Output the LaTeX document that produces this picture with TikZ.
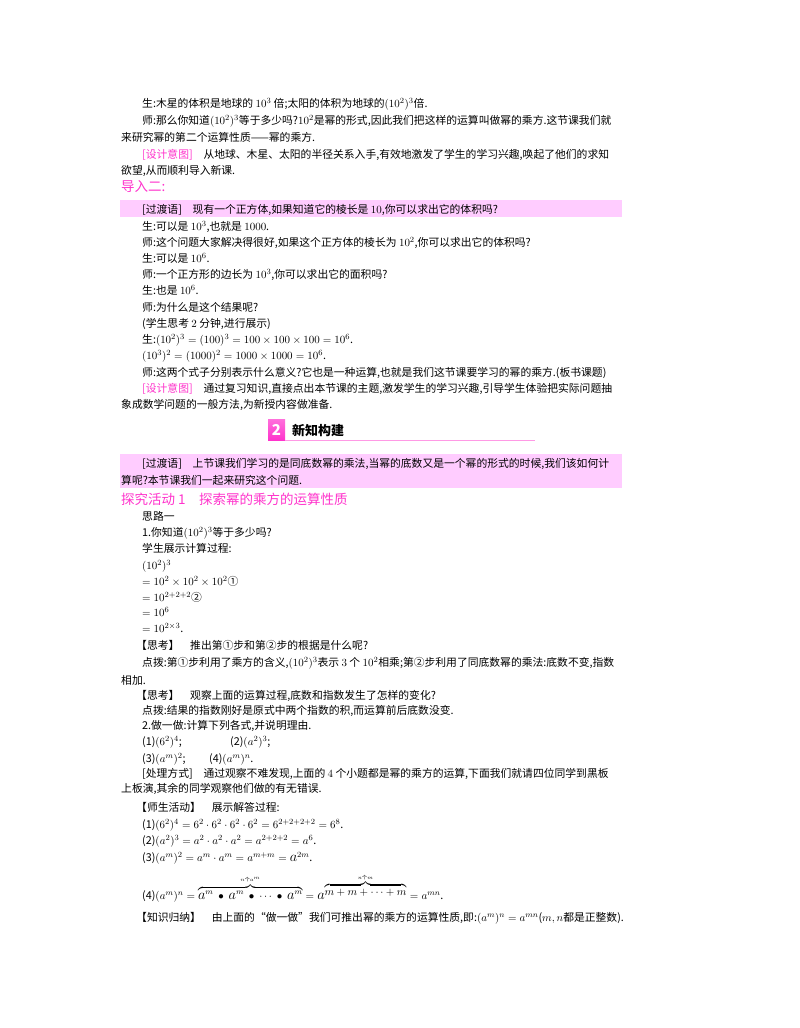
\documentclass[tikz,border=0pt]{standalone}
\usepackage{amsmath}
\usepackage{fontspec}
\setmainfont{Noto Sans CJK SC}
\definecolor{pk}{HTML}{FFCCFF}
\definecolor{mg}{HTML}{FF33CC}
\newcommand{\pkt}[1]{{\color{mg}#1}}
\begin{document}
\begin{tikzpicture}[x=1pt,y=-1pt,
  t/.style={anchor=base west,inner sep=0pt,font=\fontsize{10.8}{13}\selectfont},
  hd/.style={anchor=base west,inner sep=0pt,text=mg,font=\fontsize{13.5}{16}\selectfont}]
\useasboundingbox (0,0) rectangle (800,1028);
\fill[white] (0,0) rectangle (800,1028);
\fill[pk] (120,200) rectangle (622,217);
\fill[pk] (120,454) rectangle (622,488);
\node[t] (l1) at (142,107) {生:木星的体积是地球的 $10^3$ 倍;太阳的体积为地球的$(10^2)^3$倍.};
\node[t] (l2) at (142,124) {师:那么你知道$(10^2)^3$等于多少吗?$10^2$是幂的形式,因此我们把这样的运算叫做幂的乘方.这节课我们就};
\node[t] (l3) at (121,141) {来研究幂的第二个运算性质——幂的乘方.};
\node[t] (l4) at (142,158) {\pkt{[设计意图]}\quad 从地球、木星、太阳的半径关系入手,有效地激发了学生的学习兴趣,唤起了他们的求知};
\node[t] (l5) at (121,174) {欲望,从而顺利导入新课.};
\node[hd] (h1) at (121,191) {导入二:};
\node[t] (l6) at (142,213) {[过渡语]\quad 现有一个正方体,如果知道它的棱长是 $10$,你可以求出它的体积吗?};
\node[t] (l7) at (142,230) {生:可以是 $10^3$,也就是 $1000$.};
\node[t] (l8) at (142,246) {师:这个问题大家解决得很好,如果这个正方体的棱长为 $10^2$,你可以求出它的体积吗?};
\node[t] (l9) at (142,262) {生:可以是 $10^6$.};
\node[t] (l10) at (142,278) {师:一个正方形的边长为 $10^3$,你可以求出它的面积吗?};
\node[t] (l11) at (142,294) {生:也是 $10^6$.};
\node[t] (l12) at (142,311) {师:为什么是这个结果呢?};
\node[t] (l13) at (142,327) {(学生思考 $2$ 分钟,进行展示)};
\node[t] (l14) at (142,343) {生:$(10^2)^3=(100)^3=100\times100\times100=10^6$.};
\node[t] (l15) at (142,359) {$(10^3)^2=(1000)^2=1000\times1000=10^6$.};
\node[t] (l16) at (142,376) {师:这两个式子分别表示什么意义?它也是一种运算,也就是我们这节课要学习的幂的乘方.(板书课题)};
\node[t] (l17) at (142,392) {\pkt{[设计意图]}\quad 通过复习知识,直接点出本节课的主题,激发学生的学习兴趣,引导学生体验把实际问题抽};
\node[t] (l18) at (121,408) {象成数学问题的一般方法,为新授内容做准备.};
% heading
\shade[top color=mg!70, bottom color=mg] (268,419) rectangle (285,440);
\node[anchor=center,inner sep=0pt,text=white,font=\bfseries\itshape\fontsize{15}{15}\selectfont] (b2) at (276.5,430) {2};
\node[anchor=base west,inner sep=0pt,font=\bfseries\fontsize{13}{15}\selectfont] (h2) at (292,435) {新知构建};
\draw[mg!50,line width=0.8pt] (285,440) -- (535,440);
\node[t] (m1) at (142,467) {[过渡语]\quad 上节课我们学习的是同底数幂的乘法,当幂的底数又是一个幂的形式的时候,我们该如何计};
\node[t] (m2) at (121,484) {算呢?本节课我们一起来研究这个问题.};
\node[hd] (h3) at (121,504) {探究活动 1\quad 探索幂的乘方的运算性质};
\node[t] (m3) at (142,520) {思路一};
\node[t] (m4) at (142,536) {1.你知道$(10^2)^3$等于多少吗?};
\node[t] (m5) at (142,552) {学生展示计算过程:};
\node[t] (m6) at (142,569) {$(10^2)^3$};
\node[t] (m7) at (142,585) {$=10^2\times10^2\times10^2$①};
\node[t] (m8) at (142,601) {$=10^{2+2+2}$②};
\node[t] (m9) at (142,616) {$=10^6$};
\node[t] (m10) at (142,632) {$=10^{2\times3}$.};
\node[t] (m11) at (136,649) {【思考】\quad 推出第①步和第②步的根据是什么呢?};
\node[t] (m12) at (142,666) {点拨:第①步利用了乘方的含义,$(10^2)^3$表示 $3$ 个 $10^2$相乘;第②步利用了同底数幂的乘法:底数不变,指数};
\node[t] (m13) at (121,684) {相加.};
\node[t] (m14) at (136,699) {【思考】\quad 观察上面的运算过程,底数和指数发生了怎样的变化?};
\node[t] (m15) at (142,714) {点拨:结果的指数刚好是原式中两个指数的积,而运算前后底数没变.};
\node[t] (m16) at (142,729) {2.做一做:计算下列各式,并说明理由.};
\node[t] (m17) at (142,745) {(1)$(6^2)^4$;};
\node[t] (m18) at (230,745) {(2)$(a^2)^3$;};
\node[t] (m19) at (142,762) {(3)$(a^m)^2$;};
\node[t] (m20) at (209,762) {(4)$(a^m)^n$.};
\node[t] (m21) at (142,777) {[处理方式]\quad 通过观察不难发现,上面的 $4$ 个小题都是幂的乘方的运算,下面我们就请四位同学到黑板};
\node[t] (m22) at (121,792) {上板演,其余的同学观察他们做的有无错误.};
\node[t] (m23) at (136,811) {【师生活动】\quad 展示解答过程:};
\node[t] (m24) at (142,828) {(1)$(6^2)^4=6^2\cdot6^2\cdot6^2\cdot6^2=6^{2+2+2+2}=6^8$.};
\node[t] (m25) at (142,844) {(2)$(a^2)^3=a^2\cdot a^2\cdot a^2=a^{2+2+2}=a^6$.};
\node[t] (m26) at (142,861) {(3)$(a^m)^2=a^m\cdot a^m=a^{m+m}=\text{\Large$a$}^{2m}$.};
\node[t] (m27) at (142,899) {(4)$(a^m)^n=\overbrace{\text{\Large$a$}^m\ \bullet\ \text{\Large$a$}^m\ \bullet\ \cdots\ \bullet\ \text{\Large$a$}^m}^{\text{\tiny$n$个$a^m$}}=\text{\Large$a$}^{\overbrace{m+m+\cdots+m}^{\text{\tiny$n$个$m$}}}=a^{mn}$.};
\node[t] (m28) at (136,921) {【知识归纳】\quad 由上面的“做一做”我们可推出幂的乘方的运算性质,即:$(a^m)^n=a^{mn}$($m,n$都是正整数).};
\end{tikzpicture}
\end{document}
